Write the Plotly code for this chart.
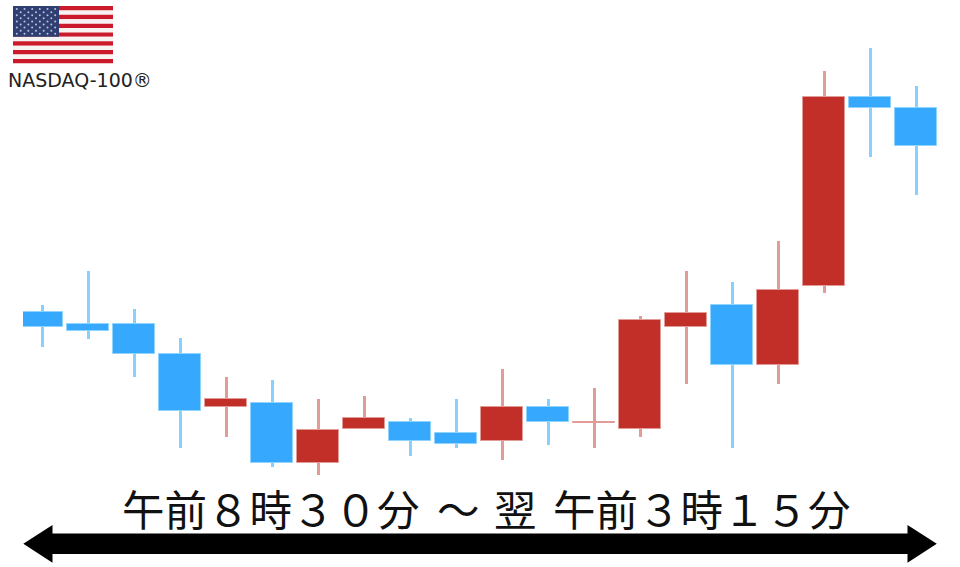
import plotly.graph_objects as go

W, H = 960, 567

# Session index and OHLC values (price scale)
session = list(range(20))
open_ = [255.3, 243.7, 243.7, 213.7, 161.0, 164.3, 104.7, 138.3, 145.7, 134.3, 127.0, 160.7, 144.5, 138.3, 240.3, 262.7, 202.7, 282.0, 470.7, 459.3]
close = [240.3, 236.3, 213.7, 157.0, 168.7, 104.7, 137.7, 149.3, 127.0, 123.3, 160.7, 145.7, 145.7, 247.7, 255.0, 202.7, 277.7, 470.7, 459.3, 421.7]
high = [263.0, 297.0, 259.0, 229.3, 191.0, 187.7, 168.7, 172.0, 149.3, 168.7, 198.7, 168.7, 179.7, 251.7, 297.0, 285.3, 327.0, 497.0, 519.7, 481.7]
low = [221.0, 228.7, 191.0, 119.3, 131.0, 100.3, 93.0, 138.3, 112.0, 119.3, 108.0, 123.0, 119.3, 131.0, 183.7, 119.3, 183.7, 274.3, 410.3, 372.7]

caption_left = "午前８時３０分"
caption_mid = "～"
caption_next = "翌"
caption_right = "午前３時１５分"
index_name = "NASDAQ-100®"

BLUE, BLUE_SOFT = "#36A9FF", "#86D1FF"
RED, RED_SOFT = "#C22E28", "#E29C98"

is_up = [c >= o for o, c in zip(open_, close)]
wick_colors = [RED_SOFT if u else BLUE_SOFT for u in is_up]
body_colors = [
    (RED_SOFT if abs(c - o) < 2 else RED) if u else BLUE
    for u, o, c in zip(is_up, open_, close)
]
edge_colors = [RED_SOFT if u else "#8FD3FF" for u in is_up]

fig = go.Figure()
fig.add_bar(
    x=session, base=low, y=[h - l for h, l in zip(high, low)],
    width=3.4 / 46, marker=dict(color=wick_colors, line=dict(width=0)), hoverinfo="skip",
)
fig.add_bar(
    x=session, base=[min(o, c) for o, c in zip(open_, close)],
    y=[abs(c - o) for o, c in zip(open_, close)],
    width=42 / 46, marker=dict(color=body_colors, line=dict(width=1, color=edge_colors)),
    hoverinfo="skip",
)


def px(x):
    return x / W


def py(y):
    return 1 - y / H


def poly(points):
    return "M " + " L ".join(f"{px(x):.5f},{py(y):.5f}" for x, y in points) + " Z"


shapes = []
# double-headed arrow
arrow = [(23.3, 543.7), (52.5, 525), (52.5, 533.5), (907.5, 533.5), (907.5, 525),
         (936.8, 543.7), (907.5, 562.7), (907.5, 554), (52.5, 554), (52.5, 562.7)]
shapes.append(dict(type="path", xref="paper", yref="paper", path=poly(arrow),
                   fillcolor="#000000", line=dict(width=0), layer="above"))

# flag
FX0, FX1, FY0, FY1 = 13, 113, 6, 63.3
sh = (FY1 - FY0) / 13
for i in range(13):
    shapes.append(dict(type="rect", xref="paper", yref="paper",
                       x0=px(FX0), x1=px(FX1), y0=py(FY0 + i * sh), y1=py(FY0 + (i + 1) * sh),
                       fillcolor="#CB1A2C" if i % 2 == 0 else "#F7F3F3", line=dict(width=0)))
CX1, CY1 = 59, FY0 + 7 * sh
shapes.append(dict(type="rect", xref="paper", yref="paper",
                   x0=px(FX0), x1=px(CX1), y0=py(FY0), y1=py(CY1),
                   fillcolor="#2F3F72", line=dict(width=0)))
for r in range(9):
    n = 6 if r % 2 == 0 else 5
    for c in range(n):
        cx = FX0 + (CX1 - FX0) * (c + (0.5 if r % 2 == 0 else 1.0)) / 6
        cy = FY0 + (CY1 - FY0) * (r + 1) / 10
        shapes.append(dict(type="circle", xref="paper", yref="paper",
                           x0=px(cx - 1.0), x1=px(cx + 1.0), y0=py(cy - 1.0), y1=py(cy + 1.0),
                           fillcolor="#BCC3DA", line=dict(width=0)))


def label(text, xc, yc, size, font, color="#111111"):
    return dict(text=text, xref="paper", yref="paper", x=px(xc), y=py(yc),
                xanchor="center", yanchor="middle", showarrow=False,
                font=dict(family=font, size=size, color=color))


CJK = "Noto Sans CJK JP"
annotations = [
    label(index_name, 79.5, 80.5, 19, "DejaVu Sans", "#222222"),
    label(caption_left, 271, 507, 42.5, CJK),
    label(caption_mid, 458, 507, 42.5, CJK),
    label(caption_next, 515, 507, 42.5, CJK),
    label(caption_right, 702, 507, 42.5, CJK),
]

fig.update_layout(
    width=W, height=H, autosize=False,
    margin=dict(l=0, r=0, t=0, b=0),
    paper_bgcolor="white", plot_bgcolor="white",
    barmode="overlay", bargap=0, showlegend=False,
    shapes=shapes, annotations=annotations,
    xaxis=dict(domain=[23 / W, 937 / W], range=[(23 - 42.2) / 46, (937 - 42.2) / 46],
               visible=False, fixedrange=True),
    yaxis=dict(domain=[0, 1], range=[0.5, H + 0.5], visible=False, fixedrange=True),
)
fig.write_html("out.html", config={"displayModeBar": False},
               post_script="document.body.style.margin='0';document.body.style.overflow='hidden';")
